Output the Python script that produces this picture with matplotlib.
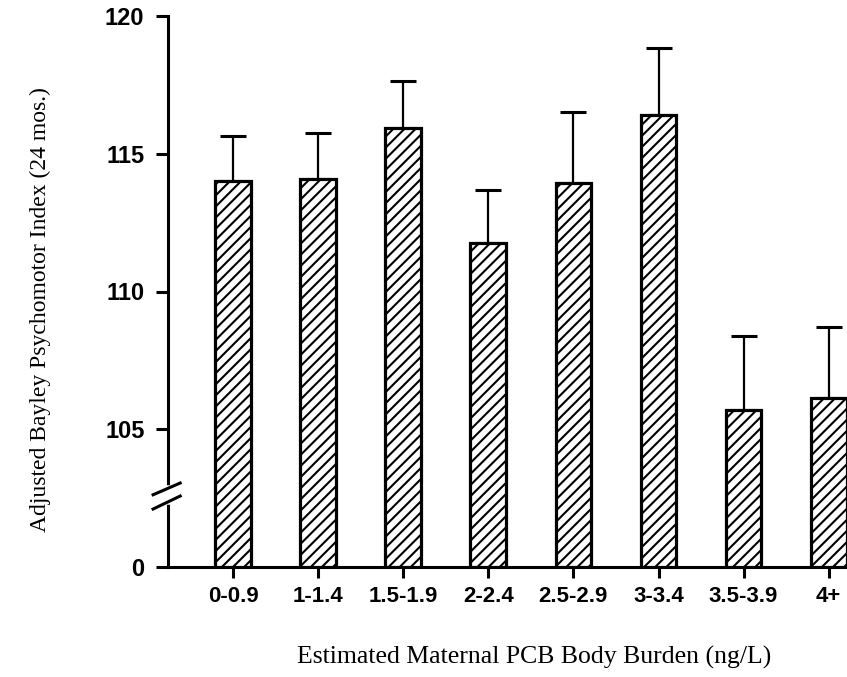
import matplotlib
matplotlib.use("Agg")
import matplotlib.pyplot as plt
import matplotlib.transforms as mtransforms
import numpy as np

categories = ["0-0.9", "1-1.4", "1.5-1.9", "2-2.4", "2.5-2.9", "3-3.4", "3.5-3.9", "4+"]
means = [114.0, 114.1, 115.95, 111.75, 113.95, 116.4, 105.7, 106.15]
upper = [115.65, 115.75, 117.65, 113.7, 116.5, 118.85, 108.4, 108.7]
ytick_values = [100, 105, 110, 115, 120]
ytick_labels = ["0", "105", "110", "115", "120"]
BASE = 100  # display value of the broken-axis "0"

plt.rcParams["hatch.linewidth"] = 1.5
fig = plt.figure(figsize=(8.47, 6.77), dpi=100)
ax = fig.add_axes([168 / 847, (677 - 567) / 677, 1 - 168 / 847, (567 - 16) / 677])

x = np.arange(len(categories))
heights = [m - BASE for m in means]
err_up = [u - m for u, m in zip(upper, means)]

ax.errorbar(x, means, yerr=[np.zeros(len(x)), err_up], fmt="none", ecolor="black",
            elinewidth=1.6, capsize=9.5, capthick=2.2, zorder=2)
ax.bar(x, heights, bottom=BASE, width=0.42, facecolor="white", edgecolor="black",
       linewidth=2.3, hatch="///", zorder=3)

ax.set_xlim(-0.764, 7.215)
ax.set_ylim(BASE, 120)
ax.spines["top"].set_visible(False)
ax.spines["right"].set_visible(False)
ax.spines["left"].set_linewidth(2.2)
ax.spines["bottom"].set_linewidth(2.2)

ax.set_yticks(ytick_values)
ax.set_yticklabels(ytick_labels, fontsize=17, fontweight="bold",
                   family=["Liberation Sans", "DejaVu Sans"])
ax.set_xticks(x)
ax.set_xticklabels(categories, fontsize=16, fontweight="bold",
                   family=["Liberation Sans", "DejaVu Sans"])
ax.tick_params(axis="y", direction="out", length=9, width=2.2, pad=8)
ax.tick_params(axis="x", direction="out", length=8, width=2.2, pad=6)

# axis break marks
trans = mtransforms.blended_transform_factory(ax.transAxes, ax.transData)
ax.plot([0, 0], [102.35, 102.85], transform=trans, color="white", lw=4, clip_on=False, zorder=5)
ax.plot([-0.024, 0.02], [102.6, 103.07], transform=trans, color="black", lw=2.2,
        clip_on=False, zorder=6, solid_capstyle="butt")
ax.plot([-0.024, 0.02], [102.08, 102.6], transform=trans, color="black", lw=2.2,
        clip_on=False, zorder=6, solid_capstyle="butt")

fig.text(40 / 847, 1 - 310 / 677, "Adjusted Bayley Psychomotor Index (24 mos.)",
         rotation=90, ha="center", va="center", fontsize=17,
         family=["Liberation Serif", "DejaVu Serif"])
fig.text(534 / 847, 1 - 657 / 677, "Estimated Maternal PCB Body Burden (ng/L)",
         ha="center", va="center", fontsize=18.5, family=["Liberation Serif", "DejaVu Serif"])

fig.savefig("out.png", dpi=100)
